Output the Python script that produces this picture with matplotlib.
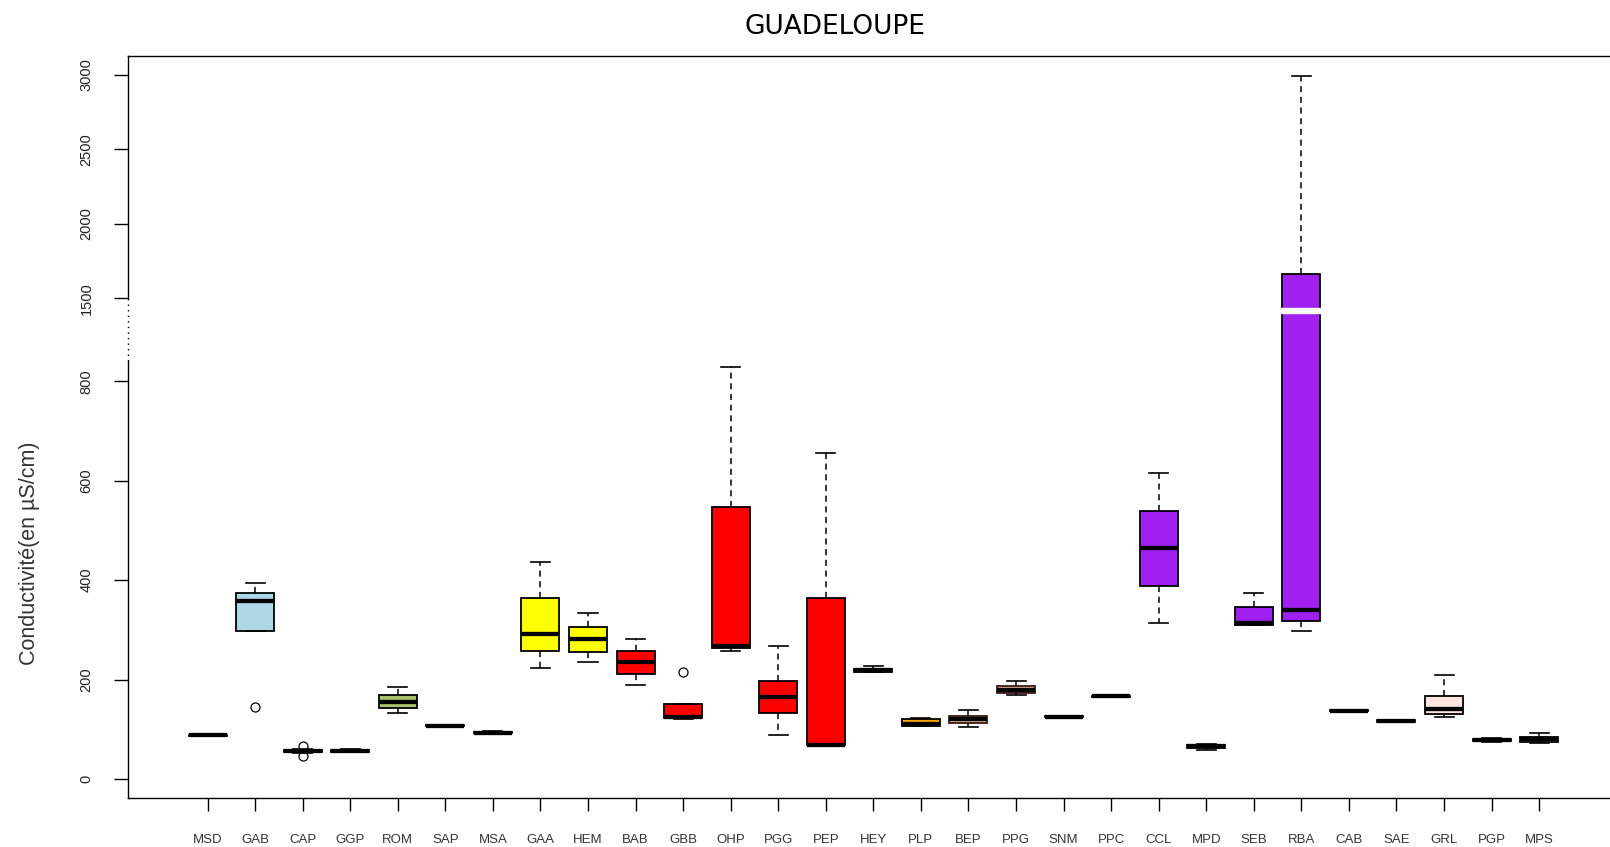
import numpy as np
import matplotlib
matplotlib.use("Agg")
import matplotlib.pyplot as plt

# stations et statistiques des boîtes
stations = ["MSD", "GAB", "CAP", "GGP", "ROM", "SAP", "MSA", "GAA", "HEM", "BAB",
            "GBB", "OHP", "PGG", "PEP", "HEY", "PLP", "BEP", "PPG", "SNM", "PPC",
            "CCL", "MPD", "SEB", "RBA", "CAB", "SAE", "GRL", "PGP", "MPS"]
whislo = [86, 298, 53, 54, 133.5, 105, 91, 223, 235, 190,
          121, 257.5, 88, 67, 215, 106, 104, 169, 124, 164.5,
          313, 58, 309, 298, 135.5, 114.5, 125.4, 75, 73]
q1 = [87, 298, 54, 55, 143.5, 106, 92, 257, 256, 211,
      122, 263, 133.5, 68.4, 216, 107, 113.3, 173.6, 124.5, 165,
      388, 63, 310.5, 318.5, 136, 115, 130, 76, 74]
med = [88, 358, 56, 57, 155, 107, 93, 292, 282, 235,
       125, 267.6, 164, 69, 219, 110, 120, 179, 125.5, 166,
       464, 66, 314, 340, 137, 116.5, 141.5, 78.5, 80]
q3 = [89, 374, 58, 59, 168.4, 108, 95, 365, 306.5, 257.5,
      150, 548, 198, 365, 221, 120, 126, 187.7, 126.5, 167,
      539, 69, 346, 1663, 138, 118, 166.4, 81, 84]
whishi = [90, 395, 60, 60, 184.5, 109, 97, 437, 333, 281,
          150, 828, 268, 655, 227, 123, 138.8, 197.7, 127, 167.5,
          615, 71, 375, 2990, 138.5, 118.5, 208.6, 82, 93]
outliers = {"GAB": [145], "CAP": [67, 46], "GBB": [215]}
couleurs = ["white", "#ADD8E6", "white", "white", "#A6C46A", "white", "white", "#FFFF00", "#FFFF00", "#FF0000",
            "#FF0000", "#FF0000", "#FF0000", "#FF0000", "#FF0000", "#FFA500", "#D8B49A", "#D8B49A", "white", "white",
            "#A020F0", "white", "#A020F0", "#A020F0", "white", "white", "#FFE4E1", "white", "white"]

yticks = [0, 200, 400, 600, 800, 1500, 2000, 2500, 3000]

# axe coupé : 0-840 normal, 840-1400 comprimé, >1400 échelle réduite
BAS, HAUT = 840, 1400
F_HAUT = 936.9
S_GAP = (F_HAUT - BAS) / (HAUT - BAS)
S_HAUT = 0.2995


def fwd(v):
    v = np.asarray(v, dtype=float)
    return np.where(v <= BAS, v,
                    np.where(v < HAUT, BAS + (v - BAS) * S_GAP, F_HAUT + (v - HAUT) * S_HAUT))


def inv(f):
    f = np.asarray(f, dtype=float)
    return np.where(f <= BAS, f,
                    np.where(f < F_HAUT, BAS + (f - BAS) / S_GAP, HAUT + (f - F_HAUT) / S_HAUT))


stats = []
for i, s in enumerate(stations):
    stats.append({"label": s, "whislo": whislo[i], "q1": q1[i], "med": med[i],
                  "q3": q3[i], "whishi": whishi[i], "fliers": outliers.get(s, [])})

fig = plt.figure(figsize=(16.1, 8.47), dpi=100)
ax = fig.add_axes([0.0793, 0.0582, 0.9263, 0.8757])
ax.set_yscale("function", functions=(fwd, inv))

pos = np.arange(1, len(stations) + 1)
bp = ax.bxp(stats, positions=pos, widths=0.8, capwidths=0.4, patch_artist=True,
            boxprops=dict(edgecolor="black", linewidth=1.3),
            whiskerprops=dict(color="black", linewidth=1.1, linestyle=(0, (4, 3))),
            capprops=dict(color="black", linewidth=1.2),
            medianprops=dict(color="black", linewidth=3.1, solid_capstyle="butt"),
            flierprops=dict(marker="o", markersize=6.5, markerfacecolor="none",
                            markeredgecolor="black", markeredgewidth=0.9))
for patch, c in zip(bp["boxes"], couleurs):
    patch.set_facecolor(c)
for p in ["BEP", "PPG"]:
    bp["boxes"][stations.index(p)].set_edgecolor("#3a1a10")

ax.set_xlim(-0.68, 30.68)
ax.set_ylim(-37.6, 3127)

# bande blanche de la coupure
ax.axhspan(1400, 1435, xmin=0.02, xmax=0.98, color="white", zorder=5)

# axe gauche dessiné à la main (pointillé dans la coupure)
ax.spines["left"].set_visible(False)
ytr = ax.get_yaxis_transform()
ax.plot([0, 0], [-37.6, BAS], transform=ytr, color="black", lw=1.0, clip_on=False, zorder=6)
ax.plot([0, 0], [BAS, 1500], transform=ytr, color="black", lw=1.0, ls=(0, (1, 3)), clip_on=False, zorder=6)
ax.plot([0, 0], [1500, 3127], transform=ytr, color="black", lw=1.0, clip_on=False, zorder=6)
for sp in ["top", "bottom", "right"]:
    ax.spines[sp].set_linewidth(1.0)

ax.set_yticks(yticks)
ax.set_yticklabels([str(t) for t in yticks], rotation=90, va="center",
                   family=["Liberation Sans Narrow", "Liberation Sans"], fontsize=10.5, color="#222222")
ax.tick_params(axis="y", length=10, width=1.0, pad=14.5)
ax.set_xticks(pos)
ax.set_xticklabels(stations, family="Liberation Sans", fontsize=9.5, color="#333333")
ax.tick_params(axis="x", length=9.4, width=1.0, pad=17)
ax.minorticks_off()

fig.text(30 / 1610, 1 - 553 / 847, "Conductivité(en µS/cm)", rotation=90, ha="center", va="center",
         family="Liberation Sans", fontsize=15.5, color="#333333")
fig.text(835 / 1610, 1 - 27 / 847, "GUADELOUPE", ha="center", va="center",
         family="DejaVu Sans", fontsize=19)

fig.savefig("out.png", dpi=100)
